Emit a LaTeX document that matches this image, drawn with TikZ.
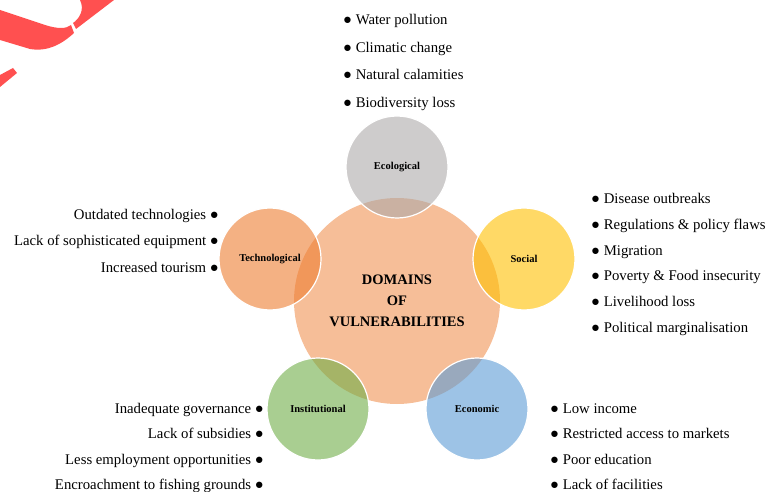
\documentclass[tikz,border=0pt]{standalone}
\usepackage{fontspec}
\setmainfont{Liberation Serif}

\definecolor{logored}{HTML}{FF5050}
\definecolor{domorange}{HTML}{ED7D31}
\definecolor{ecogray}{HTML}{AEAAAA}
\definecolor{socyellow}{HTML}{FFC000}
\definecolor{instgreen}{HTML}{70AD47}
\definecolor{econblue}{HTML}{5B9BD5}

\begin{document}
\begin{tikzpicture}[x=1pt,y=-1pt,
        bubble/.style={circle,minimum size=102pt,inner sep=0pt,fill opacity=0.6,text opacity=1,
            draw=white,line width=1.2pt,font=\fontsize{10.5}{12}\selectfont\bfseries},
        itemlist/.style={inner sep=0pt,font=\fontsize{14.75}{#1}\selectfont}]
    \useasboundingbox (0,0) rectangle (766,492);

    % corner of the logo
    \fill[logored] (0,10) -- (45,25) .. controls (58,29) and (66,29) .. (71,25) -- (74,33) .. controls (62,44) and (48,52) .. (30,49) -- (0,40) -- cycle;
    \fill[logored] (73,23) .. controls (79,19) and (85,10) .. (80,0) -- (114,0) -- (76,29) -- cycle;
    \fill[logored] (0,75) -- (13,68) -- (17,73) -- (0,87) -- cycle;

    \node[circle,minimum size=206pt,inner sep=0pt,fill=domorange,fill opacity=0.5,text opacity=1,
        align=center,font=\fontsize{14.5}{21}\selectfont\bfseries] (dov) at (397,301) {DOMAINS\\OF\\VULNERABILITIES};

    \node[bubble,fill=ecogray] (eco) at (397,167) {Ecological};
    \node[bubble,fill=domorange] (tech) at (270,259) {Technological};
    \node[bubble,fill=socyellow] (soc) at (524,259) {Social};
    \node[bubble,fill=instgreen] (inst) at (318,409) {Institutional};
    \node[bubble,fill=econblue] (econ) at (477,409) {Economic};

    \node[itemlist=27.7,align=left,anchor=north west] (ecolist) at (343,14) {● Water pollution\\● Climatic change\\● Natural calamities\\● Biodiversity loss};
    \node[itemlist=26.5,align=right,anchor=north east] (techlist) at (219,209) {Outdated technologies ●\\Lack of sophisticated equipment ●\\Increased tourism ●};
    \node[itemlist=25.8,align=left,anchor=north west] (soclist) at (591,193) {● Disease outbreaks\\● Regulations \& policy flaws\\● Migration\\● Poverty \& Food insecurity\\● Livelihood loss\\● Political marginalisation};
    \node[itemlist=25.5,align=right,anchor=north east] (instlist) at (264,403) {Inadequate governance ●\\Lack of subsidies ●\\Less employment opportunities ●\\Encroachment to fishing grounds ●};
    \node[itemlist=25.5,align=left,anchor=north west] (econlist) at (550,403.5) {● Low income\\● Restricted access to markets\\● Poor education\\● Lack of facilities};
\end{tikzpicture}
\end{document}
